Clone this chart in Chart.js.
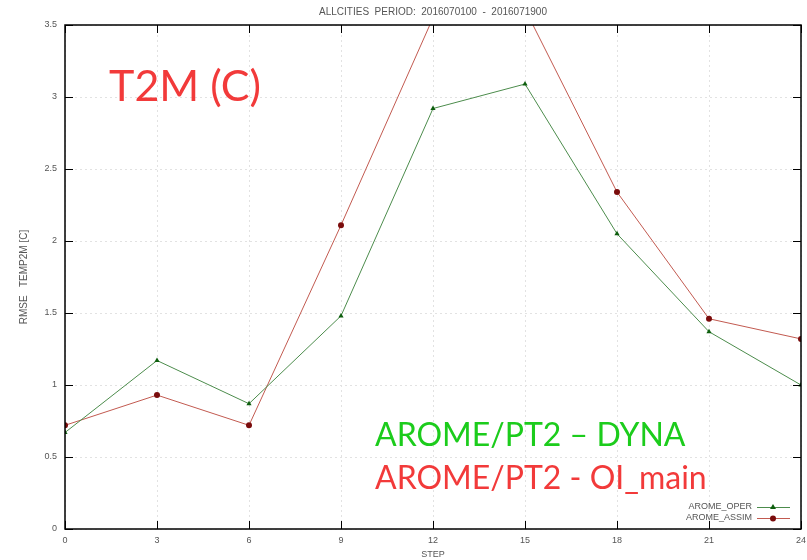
<!DOCTYPE html>
<html>
<head>
<meta charset="utf-8">
<script src="https://cdn.jsdelivr.net/npm/chart.js@4/dist/chart.umd.min.js"></script>
<style>
  html, body { margin: 0; padding: 0; background: #fff; }
  #wrap { width: 807px; height: 560px; position: relative; }
</style>
</head>
<body>
<div id="wrap"><canvas id="c"></canvas></div>
<script>
const steps = [0, 3, 6, 9, 12, 15, 18, 21, 24];
const aromeOper = [0.67, 1.17, 0.87, 1.48, 2.92, 3.09, 2.05, 1.37, 1.00];
const aromeAssim = [0.72, 0.93, 0.72, 2.11, 3.55, 3.61, 2.34, 1.46, 1.32];
const seriesNames = ["AROME_OPER", "AROME_ASSIM"];
const chartTitle = "ALLCITIES  PERIOD:  2016070100  -  2016071900";
const notes = [
  { text: "T2M (C)", color: "#f23a3a" },
  { text: "AROME/PT2 \u2013 DYNA", color: "#1ccc1c" },
  { text: "AROME/PT2 - OI_main", color: "#f23a3a" }
];

const tickFont = { family: "Liberation Sans", size: 9 };
const labelColor = "#555";

// gnuplot-style frame, inward ticks, title, notes and legend
const gnuplotLook = {
  id: "gnuplotLook",
  afterDatasetsDraw(chart) {
    const { ctx, chartArea: a, scales: { x, y } } = chart;
    ctx.save();
    ctx.strokeStyle = "#000";
    ctx.lineWidth = 1.5;
    ctx.strokeRect(a.left, a.top, a.right - a.left, a.bottom - a.top);
    ctx.lineWidth = 1;
    steps.forEach(s => {
      const px = Math.round(x.getPixelForValue(s)) + 0.5;
      ctx.beginPath();
      ctx.moveTo(px, a.bottom); ctx.lineTo(px, a.bottom - 8);
      ctx.moveTo(px, a.top); ctx.lineTo(px, a.top + 8);
      ctx.stroke();
    });
    for (let v = 0; v <= 3.5; v += 0.5) {
      const py = Math.round(y.getPixelForValue(v)) + 0.5;
      ctx.beginPath();
      ctx.moveTo(a.left, py); ctx.lineTo(a.left + 8, py);
      ctx.moveTo(a.right, py); ctx.lineTo(a.right - 8, py);
      ctx.stroke();
    }

    // title
    ctx.fillStyle = labelColor;
    ctx.font = "10px 'Liberation Sans'";
    ctx.textAlign = "center";
    ctx.textBaseline = "middle";
    ctx.fillText(chartTitle, 433, 12);

    // notes
    ctx.textAlign = "left";
    ctx.textBaseline = "alphabetic";
    ctx.font = "43px Lato";
    ctx.fillStyle = notes[0].color;
    ctx.fillText(notes[0].text, 109, 101);
    ctx.font = "32px Lato";
    ctx.fillStyle = notes[1].color;
    ctx.fillText(notes[1].text, 375, 446);
    ctx.fillStyle = notes[2].color;
    ctx.fillText(notes[2].text, 375, 489);

    // legend
    const ds = chart.data.datasets;
    ctx.font = "9px 'Liberation Sans'";
    ctx.textAlign = "right";
    ctx.textBaseline = "middle";
    ds.forEach((d, i) => {
      const ly = 507 + i * 11;
      ctx.fillStyle = labelColor;
      ctx.fillText(d.label, 752, ly);
      ctx.strokeStyle = d.borderColor;
      ctx.lineWidth = 1;
      ctx.beginPath();
      ctx.moveTo(757, ly + 0.5); ctx.lineTo(790, ly + 0.5);
      ctx.stroke();
      ctx.fillStyle = d.pointBackgroundColor;
      ctx.beginPath();
      if (d.pointStyle === "triangle") {
        ctx.moveTo(773, ly - 3); ctx.lineTo(776, ly + 2); ctx.lineTo(770, ly + 2);
        ctx.closePath();
      } else {
        ctx.arc(773, ly + 0.5, 3, 0, Math.PI * 2);
      }
      ctx.fill();
    });
    ctx.restore();
  }
};

new Chart(document.getElementById("c"), {
  type: "line",
  data: {
    datasets: [
      {
        label: seriesNames[0],
        data: steps.map((s, i) => ({ x: s, y: aromeOper[i] })),
        borderColor: "#4c8c4c",
        borderWidth: 1,
        pointStyle: "triangle",
        pointRadius: 3,
        pointBackgroundColor: "#0d5e0d",
        pointBorderColor: "#0d5e0d",
        pointBorderWidth: 0,
        tension: 0
      },
      {
        label: seriesNames[1],
        data: steps.map((s, i) => ({ x: s, y: aromeAssim[i] })),
        borderColor: "#c25a50",
        borderWidth: 1,
        pointStyle: "circle",
        pointRadius: 3,
        pointBackgroundColor: "#7a0c0c",
        pointBorderColor: "#7a0c0c",
        pointBorderWidth: 0,
        tension: 0
      }
    ]
  },
  options: {
    responsive: true,
    maintainAspectRatio: false,
    animation: false,
    layout: { padding: { top: 25, right: 6, left: 0, bottom: 0 } },
    plugins: {
      legend: { display: false },
      tooltip: { enabled: false }
    },
    scales: {
      x: {
        type: "linear",
        min: 0,
        max: 24,
        border: { display: false, dash: [2, 3] },
        grid: { color: "#e2e2e2", drawTicks: false, lineWidth: 1 },
        ticks: { stepSize: 3, color: labelColor, font: tickFont, padding: 6, maxRotation: 0 },
        title: { display: true, text: "STEP", color: labelColor, font: tickFont, padding: { top: 4, bottom: 0 } },
        afterFit(scale) { scale.height = 31; scale.paddingRight = 0; scale.paddingLeft = 0; }
      },
      y: {
        min: 0,
        max: 3.5,
        border: { display: false, dash: [2, 3] },
        grid: { color: "#e2e2e2", drawTicks: false, lineWidth: 1 },
        ticks: {
          stepSize: 0.5, color: labelColor, font: tickFont, padding: 8,
          callback: v => String(v)
        },
        title: {
          display: true, text: "RMSE   TEMP2M [C]", color: labelColor,
          font: { family: "Liberation Sans", size: 10 }, padding: { top: 18, bottom: 0 }
        },
        afterFit(scale) { scale.width = 65; scale.paddingTop = 0; scale.paddingBottom = 0; }
      }
    }
  },
  plugins: [gnuplotLook]
});
</script>
</body>
</html>
